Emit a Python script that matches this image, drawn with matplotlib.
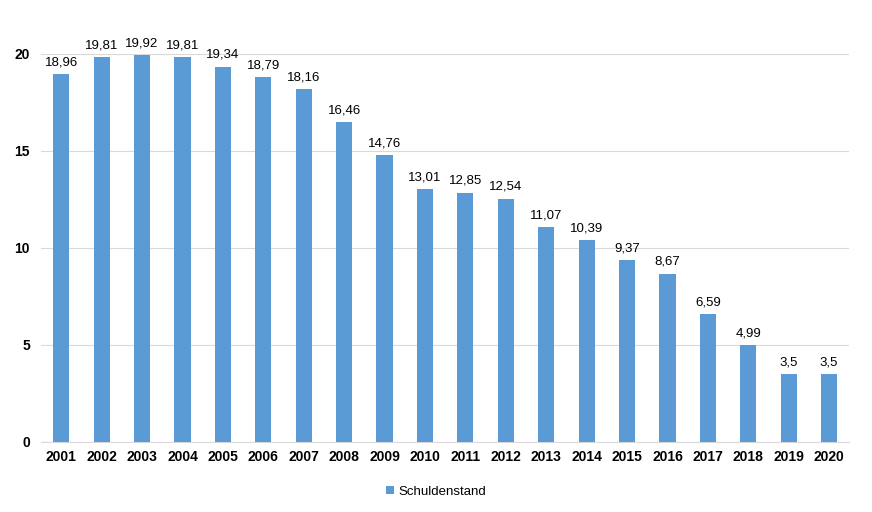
import matplotlib
matplotlib.use("Agg")
import matplotlib.pyplot as plt
import numpy as np

plt.rcParams['font.family'] = ['Liberation Sans', 'DejaVu Sans']

jahre = ["2001", "2002", "2003", "2004", "2005", "2006", "2007", "2008", "2009", "2010",
         "2011", "2012", "2013", "2014", "2015", "2016", "2017", "2018", "2019", "2020"]
schuldenstand = [18.96, 19.81, 19.92, 19.81, 19.34, 18.79, 18.16, 16.46, 14.76, 13.01,
                 12.85, 12.54, 11.07, 10.39, 9.37, 8.67, 6.59, 4.99, 3.5, 3.5]
beschriftung = ["18,96", "19,81", "19,92", "19,81", "19,34", "18,79", "18,16", "16,46", "14,76", "13,01",
                "12,85", "12,54", "11,07", "10,39", "9,37", "8,67", "6,59", "4,99", "3,5", "3,5"]

farbe = "#5B9BD5"

fig = plt.figure(figsize=(8.72, 5.12), dpi=100)
ax = fig.add_axes([0.047, 0.137, 0.927, 0.758])

x = np.arange(len(jahre))
bars = ax.bar(x, schuldenstand, width=0.4, color=farbe, label="Schuldenstand", zorder=3)

for xi, yi, txt in zip(x, schuldenstand, beschriftung):
    ax.text(xi, yi + 0.3, txt, ha="center", va="bottom", fontsize=9.5, color="#000000", clip_on=False)

ax.set_xlim(-0.5, len(jahre) - 0.5)
ax.set_ylim(0, 20)
ax.set_yticks([0, 5, 10, 15, 20])
ax.set_xticks(x)
ax.set_xticklabels(jahre, fontweight="bold", fontsize=10)
ax.set_yticklabels(["0", "5", "10", "15", "20"], fontweight="bold", fontsize=10)
ax.yaxis.grid(True, color="#D9D9D9", linewidth=0.8, zorder=0)
ax.tick_params(axis="both", length=0)
ax.tick_params(axis="y", pad=8)
ax.tick_params(axis="x", pad=6)
for s in ["top", "right", "left"]:
    ax.spines[s].set_visible(False)
ax.spines["bottom"].set_color("#D9D9D9")

fig.legend(handles=[bars], labels=["Schuldenstand"], loc="center", bbox_to_anchor=(0.5, 0.04),
           frameon=False, fontsize=9.5, handlelength=0.6, handleheight=0.6, handletextpad=0.3)

fig.savefig("out.png", dpi=100)
